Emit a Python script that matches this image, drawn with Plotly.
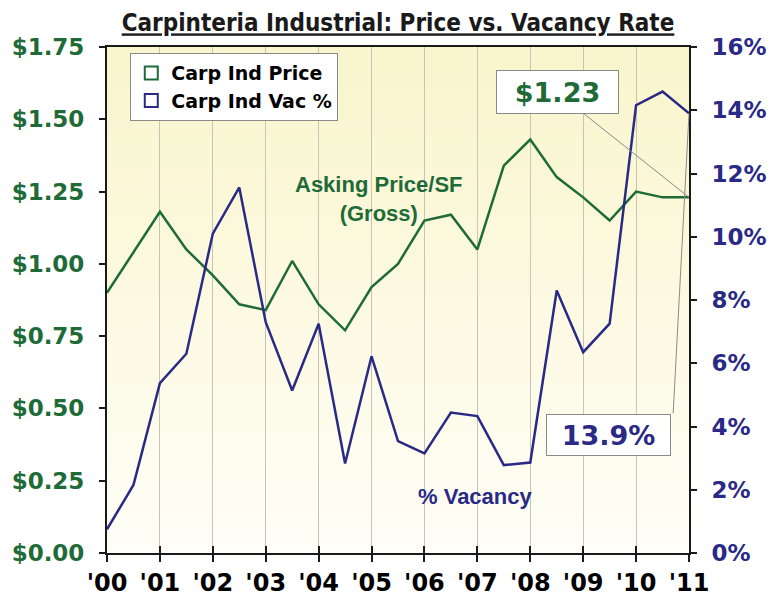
import plotly.graph_objects as go

# ---------------- data ----------------
periods = [2000.0, 2000.5, 2001.0, 2001.5, 2002.0, 2002.5, 2003.0, 2003.5,
           2004.0, 2004.5, 2005.0, 2005.5, 2006.0, 2006.5, 2007.0, 2007.5,
           2008.0, 2008.5, 2009.0, 2009.5, 2010.0, 2010.5, 2011.0]
price = [0.90, 1.04, 1.18, 1.05, 0.96, 0.86, 0.84, 1.01,
         0.86, 0.77, 0.92, 1.00, 1.15, 1.17, 1.05, 1.34,
         1.43, 1.30, 1.23, 1.15, 1.25, 1.23, 1.23]
vacancy = [0.75, 2.15, 5.37, 6.30, 10.1, 11.56, 7.30, 5.14,
           7.25, 2.83, 6.22, 3.54, 3.15, 4.44, 4.33, 2.78,
           2.86, 8.30, 6.35, 7.25, 14.16, 14.59, 13.9]
year_ticks = [2000, 2001, 2002, 2003, 2004, 2005, 2006, 2007, 2008, 2009, 2010, 2011]
year_labels = ["'00", "'01", "'02", "'03", "'04", "'05", "'06", "'07", "'08", "'09", "'10", "'11"]
price_ticks = [0, 0.25, 0.5, 0.75, 1.0, 1.25, 1.5, 1.75]
vac_ticks = [0, 2, 4, 6, 8, 10, 12, 14, 16]
price_labels = ["$%.2f" % v for v in price_ticks]
vac_labels = ["%d%%" % v for v in vac_ticks]

GREEN = "#1f6b38"
BLUE = "#2a2a86"
GRID = "#c6c4b4"
BOLD_FONT = "DejaVu Sans, Verdana, sans-serif"
ARIAL = "Liberation Sans, Arial, sans-serif"

# page body adds an 8px offset on the left/top
OFF = 8

fig = go.Figure()
fig.add_trace(go.Scatter(x=periods, y=price, mode="lines", yaxis="y",
                         line=dict(color=GREEN, width=2.5), showlegend=False))
fig.add_trace(go.Scatter(x=periods, y=vacancy, mode="lines", yaxis="y2",
                         line=dict(color=BLUE, width=2.5), showlegend=False))
# legend entries with hollow squares
fig.add_trace(go.Scatter(x=[None], y=[None], mode="markers", name="Carp Ind Price",
                         marker=dict(symbol="square-open", size=13, color=GREEN,
                                     line=dict(width=2))))
fig.add_trace(go.Scatter(x=[None], y=[None], mode="markers", name="Carp Ind Vac %",
                         yaxis="y2",
                         marker=dict(symbol="square-open", size=13, color=BLUE,
                                     line=dict(width=2))))
# helper trace for the inside half of the crossing x ticks
fig.add_trace(go.Scatter(x=[None], y=[None], xaxis="x2", showlegend=False,
                         hoverinfo="skip"))

# gradient background bands
shapes = []
n = 60
top = (249, 245, 204)
bot = (255, 254, 247)
for i in range(n):
    t = i / (n - 1)
    c = tuple(round(bot[k] + (top[k] - bot[k]) * t) for k in range(3))
    shapes.append(dict(type="rect", xref="paper", yref="paper", layer="below",
                       x0=0, x1=1, y0=i / n, y1=min(1, (i + 1) / n + 0.003),
                       line=dict(width=0), fillcolor="rgb(%d,%d,%d)" % c))

annotations = [
    dict(x=periods[-1], y=price[-1], xref="x", yref="y",
         text="<b>$%.2f</b>" % price[-1],
         font=dict(family=BOLD_FONT, size=27, color=GREEN),
         bgcolor="white", bordercolor="#8a8a8a", borderwidth=1, borderpad=5,
         width=111, height=32, showarrow=True, arrowhead=0, arrowwidth=1,
         arrowcolor="#8a8a8a", ax=-132, ay=-105),
    dict(x=0.8625, y=0.2332, xref="paper", yref="paper",
         xanchor="center", yanchor="middle",
         text="<b>%.1f%%</b>" % vacancy[-1],
         font=dict(family=BOLD_FONT, size=27, color=BLUE),
         bgcolor="white", bordercolor="#8a8a8a", borderwidth=1, borderpad=5,
         width=113, height=30, showarrow=False),
    dict(x=periods[-1], y=vacancy[-1], xref="x", yref="y2", text=" ",
         font=dict(size=2), showarrow=True, arrowhead=0, arrowwidth=1,
         arrowcolor="#8a8a8a", ax=-16, ay=303),
    dict(x=0.4674, y=0.6996, xref="paper", yref="paper",
         xanchor="center", yanchor="middle",
         text="<b>Asking Price/SF<br>(Gross)</b>",
         font=dict(family=ARIAL, size=22, color=GREEN), showarrow=False),
    dict(x=0.634, y=0.1113, xref="paper", yref="paper",
         xanchor="center", yanchor="middle", text="<b>% Vacancy</b>",
         font=dict(family=ARIAL, size=22, color=BLUE), showarrow=False),
]

fig.update_layout(
    width=777, height=600,
    margin=dict(l=107 - OFF, r=88 + OFF, t=47 - OFF, b=47 + OFF, autoexpand=False),
    paper_bgcolor="white", plot_bgcolor="#fcfae6",
    shapes=shapes, annotations=annotations,
    title=dict(text="<u>Carpinteria Industrial: Price vs. Vacancy Rate</u>",
               x=0.5, xref="paper", xanchor="center",
               y=1 - (23 - OFF) / 600, yref="container", yanchor="middle",
               font=dict(family="DejaVu Sans Condensed, Liberation Sans Narrow, DejaVu Sans, sans-serif",
                         size=24, color="#1a1a1a", weight="bold")),
    legend=dict(x=0.04, y=0.988, xanchor="left", yanchor="top",
                bgcolor="white", bordercolor="#8a8a8a", borderwidth=1,
                font=dict(family=BOLD_FONT, size=19, color="black", weight="bold"),
                itemwidth=30, tracegroupgap=0),
    xaxis=dict(range=[2000, 2011], tickvals=year_ticks, ticktext=year_labels,
               automargin=False,
               showgrid=True, gridcolor=GRID, gridwidth=1, zeroline=False,
               showline=True, linecolor="#1a1a1a", linewidth=2, mirror=True,
               ticks="outside", ticklen=7, tickwidth=1.5, tickcolor="#1a1a1a",
               tickfont=dict(family=BOLD_FONT, size=24, color="black", weight="bold")),
    xaxis2=dict(range=[2000, 2011], overlaying="x", anchor="y", side="bottom",
                automargin=False,
                tickvals=year_ticks, showticklabels=False, showgrid=False,
                zeroline=False, showline=False, ticks="inside", ticklen=7,
                tickwidth=1.5, tickcolor="#1a1a1a"),
    yaxis=dict(range=[0, 1.75], tickvals=price_ticks, ticktext=price_labels,
               automargin=False,
               showgrid=False, zeroline=False, showline=True, linecolor="#1a1a1a",
               linewidth=2, ticks="outside", ticklen=6, tickwidth=1.5,
               tickcolor="#1a1a1a", ticklabelstandoff=10,
               tickfont=dict(family=BOLD_FONT, size=23, color=GREEN, weight="bold")),
    yaxis2=dict(range=[0, 16], tickvals=vac_ticks, ticktext=vac_labels,
                automargin=False,
                overlaying="y", side="right", anchor="x",
                showgrid=False, zeroline=False, showline=True, linecolor="#1a1a1a",
                linewidth=2, ticks="outside", ticklen=6, tickwidth=1.5,
                tickcolor="#1a1a1a", ticklabelstandoff=10,
                tickfont=dict(family=BOLD_FONT, size=23, color=BLUE, weight="bold")),
)

fig.write_html("out.html")
